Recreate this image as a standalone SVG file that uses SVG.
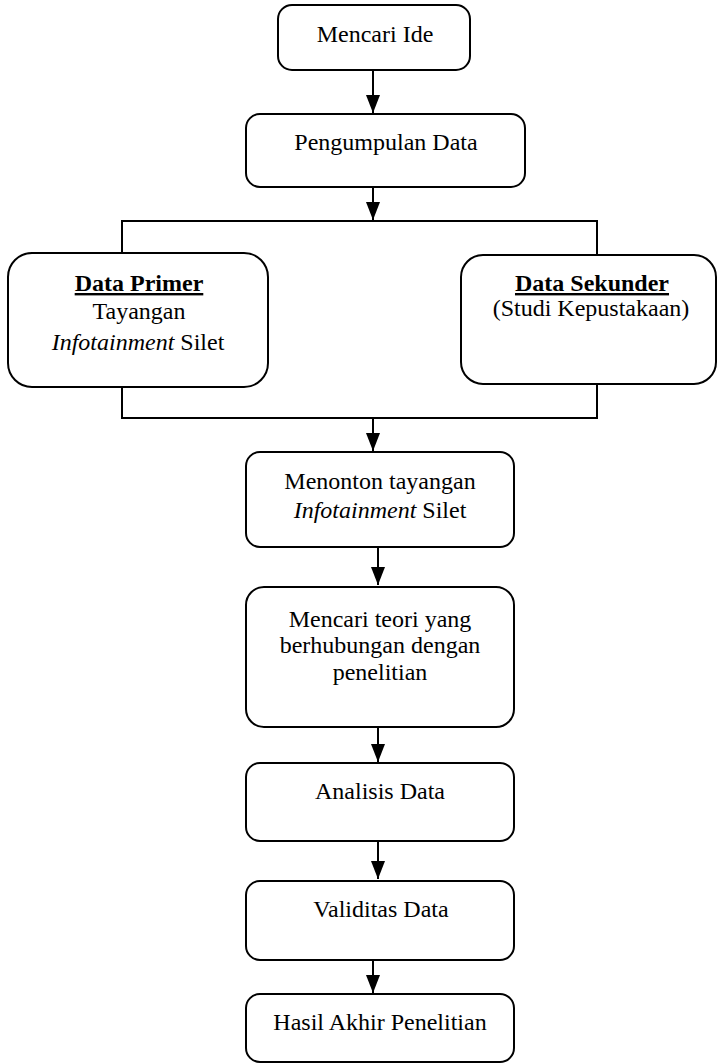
<svg xmlns="http://www.w3.org/2000/svg" width="717" height="1064" viewBox="0 0 717 1064">
<style>
.box{fill:#fff;stroke:#000;stroke-width:2}
.t{font-family:"Liberation Serif","Times New Roman",serif;font-size:24px;fill:#000;text-anchor:middle}
.b{font-weight:bold;text-decoration:underline}
.i{font-style:italic}
.c{fill:none;stroke:#000;stroke-width:2}
</style>
<defs>
<marker id="ah" markerUnits="userSpaceOnUse" markerWidth="18" markerHeight="14" viewBox="0 0 18 14" refX="18" refY="7" orient="auto">
<path d="M0,0 L18,7 L0,14 z" fill="#000"/>
</marker>
</defs>
<rect width="717" height="1064" fill="#fff"/>
<g id="connectors">
<line class="c" x1="373" y1="70" x2="373" y2="113" marker-end="url(#ah)"/>
<line class="c" x1="373" y1="187" x2="373" y2="220" marker-end="url(#ah)"/>
<polyline class="c" points="122,253 122,221 597,221 597,255"/>
<polyline class="c" points="122,387 122,418 597,418 597,384"/>
<line class="c" x1="373" y1="418" x2="373" y2="451" marker-end="url(#ah)"/>
<line class="c" x1="378" y1="547" x2="378" y2="585" marker-end="url(#ah)"/>
<line class="c" x1="378" y1="727" x2="378" y2="762" marker-end="url(#ah)"/>
<line class="c" x1="378" y1="841" x2="378" y2="879" marker-end="url(#ah)"/>
<line class="c" x1="373" y1="960" x2="373" y2="993" marker-end="url(#ah)"/>
</g>
<g id="n1"><rect class="box" x="278" y="5" width="192" height="65" rx="14"/><text class="t" x="375" y="42">Mencari Ide</text></g>
<g id="n2"><rect class="box" x="246" y="114" width="279" height="73" rx="14"/><text class="t" x="386" y="150">Pengumpulan Data</text></g>
<g id="n3"><rect class="box" x="8" y="253" width="260" height="134" rx="24"/>
<text class="t b" x="139" y="291">Data Primer</text>
<text class="t" x="139" y="319">Tayangan</text>
<text class="t" x="138" y="350"><tspan class="i">Infotainment</tspan> Silet</text></g>
<g id="n4"><rect class="box" x="461" y="255" width="255" height="129" rx="22"/>
<text class="t b" x="592" y="291">Data Sekunder</text>
<text class="t" x="591" y="316">(Studi Kepustakaan)</text></g>
<g id="n5"><rect class="box" x="246" y="452" width="268" height="95" rx="14"/>
<text class="t" x="380" y="489">Menonton tayangan</text>
<text class="t" x="380" y="518"><tspan class="i">Infotainment</tspan> Silet</text></g>
<g id="n6"><rect class="box" x="246" y="587" width="268" height="140" rx="18"/>
<text class="t" x="380" y="627">Mencari teori yang</text>
<text class="t" x="380" y="653">berhubungan dengan</text>
<text class="t" x="380" y="680">penelitian</text></g>
<g id="n7"><rect class="box" x="246" y="763" width="268" height="78" rx="14"/><text class="t" x="380" y="799">Analisis Data</text></g>
<g id="n8"><rect class="box" x="246" y="881" width="268" height="79" rx="14"/><text class="t" x="381" y="917">Validitas Data</text></g>
<g id="n9"><rect class="box" x="246" y="994" width="268" height="68" rx="14"/><text class="t" x="380" y="1030">Hasil Akhir Penelitian</text></g>
</svg>
